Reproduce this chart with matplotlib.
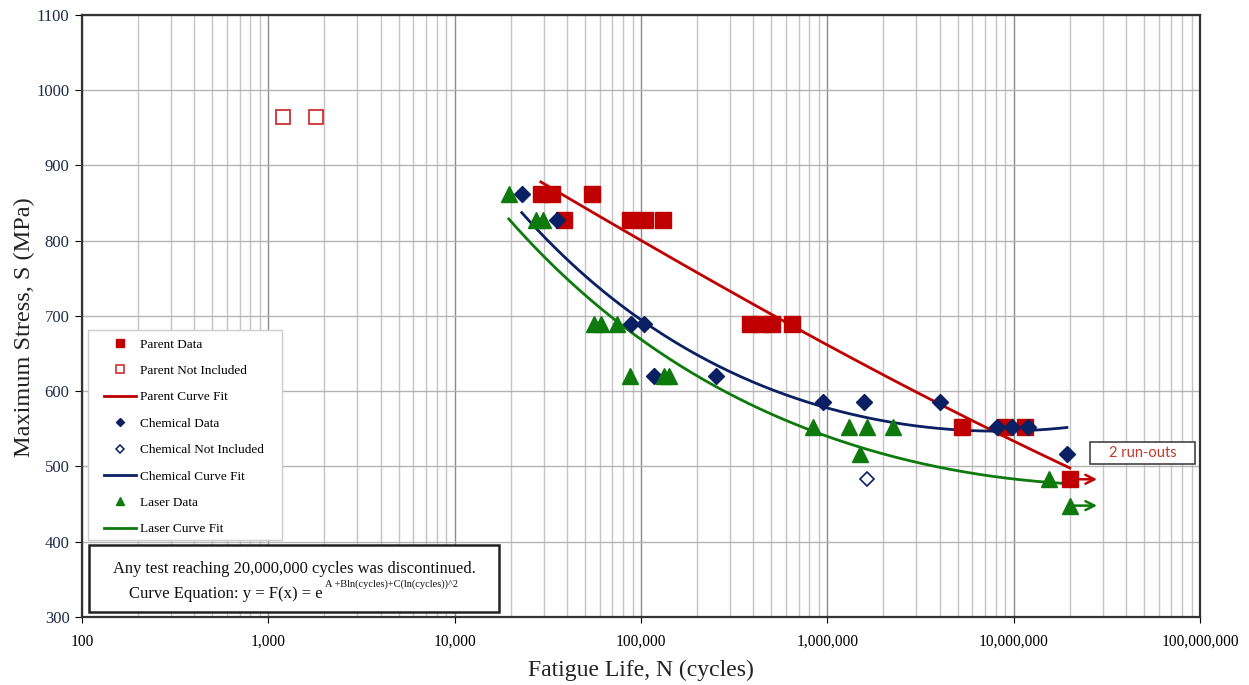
import numpy as np
import matplotlib
matplotlib.use("Agg")
import matplotlib.pyplot as plt
from matplotlib.lines import Line2D
from matplotlib.patches import Rectangle
from matplotlib.ticker import FuncFormatter, FixedLocator, NullFormatter

SERIF = "Liberation Serif"
RED, NAVY, GREEN = "#C00000", "#0B1F63", "#0E7A0E"

# --- data (cycles, MPa) ---
parent_n = [29000, 33200, 54500, 38500, 87300, 105000, 131000,
            385000, 442000, 506000, 648000, 5300000, 9000000, 11500000, 20000000]
parent_s = [862, 862, 862, 827, 827, 827, 827, 689, 689, 689, 689, 552, 552, 552, 483]
parent_ni_n = [1200, 1800]
parent_ni_s = [965, 965]

chem_n = [22900, 35300, 88300, 103800, 118000, 253000, 951000, 1580000, 4000000,
          8100000, 9760000, 11900000, 19300000]
chem_s = [862, 827, 689, 689, 620, 620, 586, 586, 586, 552, 552, 552, 517]
chem_ni_n = [1630000]
chem_ni_s = [483]

laser_n = [19500, 27200, 29700, 55900, 60900, 74300, 87300, 133000, 141600,
           841000, 1300000, 1640000, 2240000, 1500000, 15400000, 20000000]
laser_s = [862, 827, 827, 689, 689, 689, 620, 620, 620, 552, 552, 552, 552, 517, 483, 448]

# run-outs stopped at 20,000,000 cycles
runout_n = [20000000, 20000000]
runout_s = [483, 448]

x_ticks = [1e2, 1e3, 1e4, 1e5, 1e6, 1e7, 1e8]
y_ticks = list(range(300, 1101, 100))


def fit_curve(n, s, num=200):
    """Curve fit of the chart's form: S = exp(A + B ln N + C (ln N)^2)."""
    ln_n, ln_s = np.log(n), np.log(s)
    c, b, a = np.polyfit(ln_n, ln_s, 2)
    xx = np.linspace(ln_n.min(), ln_n.max(), num)
    return np.exp(xx), np.exp(a + b * xx + c * xx ** 2)


fig = plt.figure(figsize=(12.49, 6.85), dpi=100)
ax = fig.add_axes([0.0657, 0.0993, 0.8951, 0.8788])
ax.set_xscale("log")
ax.set_xlim(1e2, 1e8)
ax.set_ylim(300, 1100)

# grid
for v in x_ticks:
    ax.axvline(v, color="#8c8c8c", lw=1.0, zorder=0)
for d in x_ticks[:-1]:
    for k in range(2, 10):
        ax.axvline(d * k, color="#c4c4c4", lw=1.0, zorder=0)
for v in y_ticks:
    ax.axhline(v, color="#b4b4b4", lw=1.0, zorder=0)

# curve fits
for n, s, col in ((parent_n, parent_s, RED), (chem_n, chem_s, NAVY), (laser_n, laser_s, GREEN)):
    cx, cy = fit_curve(np.array(n, float), np.array(s, float))
    ax.plot(cx, cy, color=col, lw=2.0, zorder=2)

# run-out arrows
for n, s, col in zip(runout_n, runout_s, (RED, GREEN)):
    ax.annotate("", xy=(n * 1.45, s), xytext=(n, s),
                arrowprops=dict(arrowstyle="->", color=col, lw=1.8, mutation_scale=16),
                zorder=2)

# data
ax.plot(parent_n, parent_s, ls="none", marker="s", ms=11, color=RED, mec=RED, zorder=3)
ax.plot(parent_ni_n, parent_ni_s, ls="none", marker="s", ms=10.5, mfc="white", mec="#d03030",
        mew=1.3, zorder=3)
ax.plot(chem_n, chem_s, ls="none", marker="D", ms=8.0, color=NAVY, zorder=4)
ax.plot(chem_ni_n, chem_ni_s, ls="none", marker="D", ms=7.5, mfc="white", mec=NAVY, mew=1.2,
        zorder=4)
ax.plot(laser_n, laser_s, ls="none", marker="^", ms=11.5, color=GREEN, zorder=5)

# axes styling
ax.xaxis.set_major_locator(FixedLocator(x_ticks))
ax.xaxis.set_minor_formatter(NullFormatter())
ax.xaxis.set_major_formatter(FuncFormatter(lambda v, p: f"{int(round(v)):,}"))
ax.set_yticks(y_ticks)
ax.tick_params(axis="x", which="major", length=4, direction="out", labelsize=11.2, pad=8)
ax.tick_params(axis="x", which="minor", length=0)
ax.tick_params(axis="y", length=5, direction="out", labelsize=12, labelcolor="#1f2a48", pad=4)
for lab in ax.get_xticklabels() + ax.get_yticklabels():
    lab.set_family(SERIF)
for sp in ax.spines.values():
    sp.set_color("#333333")
    sp.set_linewidth(1.6)

ax.set_xlabel("Fatigue Life, N (cycles)", family=SERIF, fontsize=17, color="#222222")
ax.xaxis.set_label_coords(0.500, -0.071)
ax.set_ylabel("Maximum Stress, S (MPa)", family=SERIF, fontsize=17.5, color="#222222")
ax.yaxis.set_label_coords(-0.042, 0.482)

# legend (frame drawn separately so the padding matches)
ax.add_patch(Rectangle((0.0054, 0.128), 0.1735, 0.3488, transform=ax.transAxes, facecolor="white",
                       edgecolor="#cccccc", lw=1.0, zorder=9))
handles = [
    Line2D([], [], ls="none", marker="s", ms=5.5, color=RED),
    Line2D([], [], ls="none", marker="s", ms=5.5, mfc="white", mec="#d03030", mew=1.2),
    Line2D([], [], color=RED, lw=2.0),
    Line2D([], [], ls="none", marker="D", ms=4.2, color=NAVY),
    Line2D([], [], ls="none", marker="D", ms=4.2, mfc="white", mec=NAVY, mew=1.1),
    Line2D([], [], color=NAVY, lw=2.0),
    Line2D([], [], ls="none", marker="^", ms=6, color=GREEN),
    Line2D([], [], color=GREEN, lw=2.0),
]
labels = ["Parent Data", "Parent Not Included", "Parent Curve Fit", "Chemical Data",
          "Chemical Not Included", "Chemical Curve Fit", "Laser Data", "Laser Curve Fit"]
leg = ax.legend(handles, labels, loc="upper left", bbox_to_anchor=(0.0175, 0.467),
                borderaxespad=0, prop=dict(family=SERIF, size=9.5), handlelength=2.42,
                handletextpad=0.3, labelspacing=1.07, borderpad=0.2, frameon=False)
leg.set_zorder(10)

# note box
ax.add_patch(Rectangle((0.006, 0.008), 0.367, 0.112, transform=ax.transAxes, facecolor="white",
                       edgecolor="#222222", lw=1.8, zorder=10))
ax.text(0.190, 0.080, "Any test reaching 20,000,000 cycles was discontinued.", transform=ax.transAxes,
        ha="center", va="center", family=SERIF, fontsize=11.9, color="#111111", zorder=11)
ax.text(0.2156, 0.032, "Curve Equation: y = F(x) = e", transform=ax.transAxes, ha="right",
        va="baseline", family=SERIF, fontsize=12, color="#111111", zorder=11)
ax.text(0.2172, 0.050, "A +Bln(cycles)+C(ln(cycles))^2", transform=ax.transAxes, ha="left",
        va="baseline", family=SERIF, fontsize=7.5, color="#111111", zorder=11)

# run-out callout
ax.add_patch(Rectangle((0.9016, 0.254), 0.094, 0.037, transform=ax.transAxes, facecolor="white",
                       edgecolor="#444444", lw=1.2, zorder=10))
ax.text(0.9485, 0.2725, "2 run-outs", transform=ax.transAxes, ha="center", va="center",
        family="Lato", fontsize=10.5, color="#C0392B", zorder=11)

fig.savefig("out.png", dpi=100)
